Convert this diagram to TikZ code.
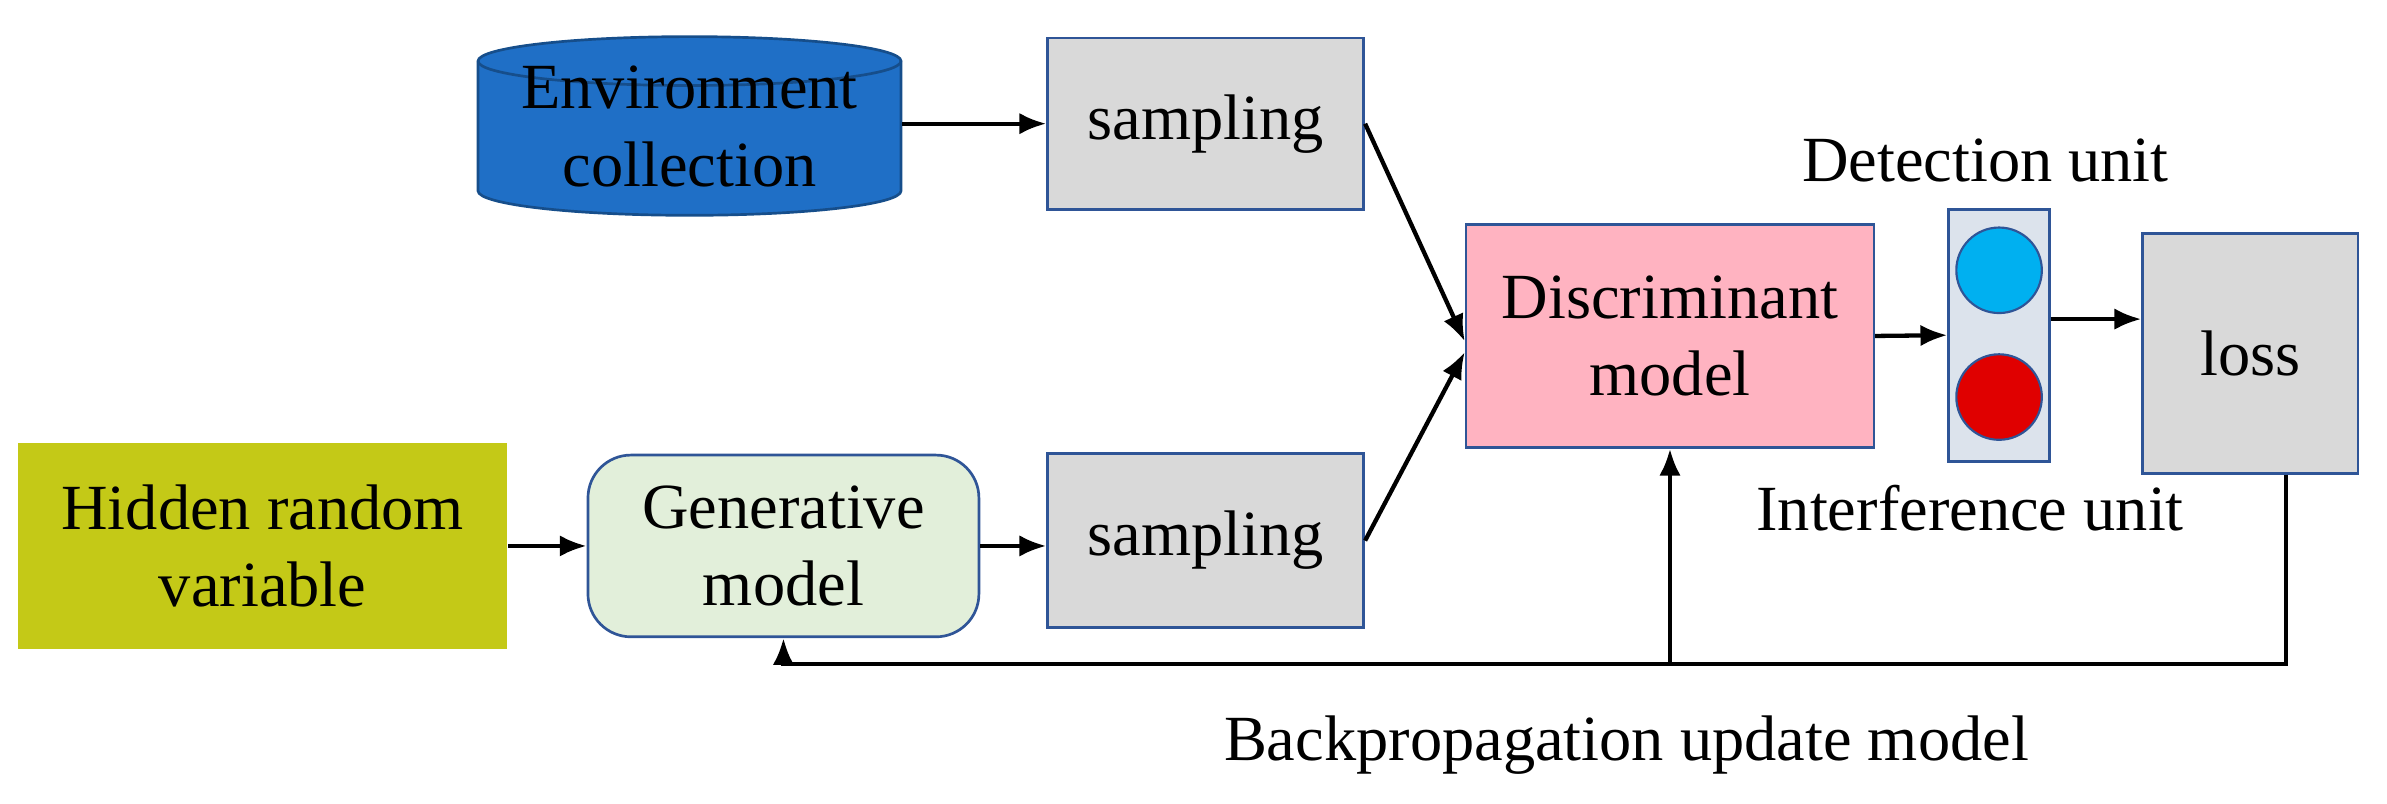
\documentclass[tikz,border=0pt]{standalone}
\usepackage{fontspec}
\setmainfont{Liberation Serif}
\usetikzlibrary{arrows.meta}
\definecolor{envblue}{HTML}{1F6FC6}
\definecolor{boxgray}{HTML}{D9D9D9}
\definecolor{boxline}{HTML}{2F5597}
\definecolor{pinkfill}{HTML}{FFB3C1}
\definecolor{olive}{HTML}{C4C917}
\definecolor{genfill}{HTML}{E2EFDA}
\definecolor{panelfill}{HTML}{DCE3EC}
\definecolor{detblue}{HTML}{00B0F0}
\definecolor{intred}{HTML}{E00000}
\tikzset{
  box/.style={draw=boxline, fill=boxgray, line width=0.5pt, align=center, inner sep=0pt},
  arr/.style={-{Latex[length=5pt,width=4pt]}, line width=0.8pt},
  txt/.style={font=\fontsize{12}{14.5}\selectfont}
}
\begin{document}
\begin{tikzpicture}[txt]
\useasboundingbox (0,0) rectangle (15.63,5.26);
%%%%%%%%%% environment cylinder %%%%%%%%%%
\fill[envblue, draw=envblue!70!black, line width=0.5pt] (3.13,4.86) -- (3.13,4.01) arc[start angle=180, end angle=360, x radius=1.385, y radius=0.16] -- (5.90,4.86) arc[start angle=0, end angle=180, x radius=1.385, y radius=0.16] -- cycle;
\draw[envblue!70!black, line width=0.5pt] (3.13,4.86) arc[start angle=180, end angle=360, x radius=1.385, y radius=0.16];
\node[align=center, minimum width=2.77cm, minimum height=0.85cm, inner sep=0pt] (env) at (4.515,4.43) {Environment\\collection};
%%%%%%%%%% boxes %%%%%%%%%%
\node[box, minimum width=2.07cm, minimum height=1.12cm] (samp1) at (7.895,4.45) {sampling};
\node[box, minimum width=2.07cm, minimum height=1.14cm] (samp2) at (7.895,1.72) {sampling};
\node[box, fill=pinkfill, minimum width=2.67cm, minimum height=1.46cm] (disc) at (10.935,3.06) {Discriminant\\model};
\node[box, fill=panelfill, minimum width=0.66cm, minimum height=1.65cm] (panel) at (13.09,3.065) {};
\node[draw=boxline, fill=detblue, circle, minimum size=0.56cm, inner sep=0pt] (det) at (13.09,3.49) {};
\node[draw=boxline, fill=intred, circle, minimum size=0.56cm, inner sep=0pt] (int) at (13.09,2.66) {};
\node[box, minimum width=1.41cm, minimum height=1.57cm] (loss) at (14.735,2.945) {loss};
\node[fill=olive, minimum width=3.2cm, minimum height=1.35cm, align=center, inner sep=0pt] (hidden) at (1.72,1.685) {Hidden random\\variable};
\node[box, fill=genfill, rounded corners=8pt, minimum width=2.56cm, minimum height=1.19cm] (gen) at (5.13,1.685) {Generative\\model};
%%%%%%%%%% labels %%%%%%%%%%
\node (detlab) at (13.0,4.21) {Detection unit};
\node (intlab) at (12.9,1.93) {Interference unit};
\node (bplab) at (10.65,-2.39+2.77) {Backpropagation update model};
%%%%%%%%%% forward arrows %%%%%%%%%%
\draw[arr] (env.east |- samp1.west) -- (samp1.west);
\draw[arr] (samp1.east) -- ([yshift=-1pt]disc.west);
\draw[arr] (samp2.east) -- ([yshift=-3pt]disc.west);
\draw[arr] (hidden.east) -- (gen.west);
\draw[arr] (gen.east) -- (gen.east -| samp2.west);
\draw[arr] (disc.east) -- (panel.west);
\draw[arr] ([yshift=3pt]panel.east) -- ([yshift=3pt]panel.east -| loss.west);
%%%%%%%%%% feedback %%%%%%%%%%
\coordinate (fb) at (0,0.91);
\draw[arr] ([xshift=6.7pt]loss.south) |- (fb -| gen.south) -- (gen.south);
\draw[arr] (disc.south |- fb) -- (disc.south);
\end{tikzpicture}
\end{document}
